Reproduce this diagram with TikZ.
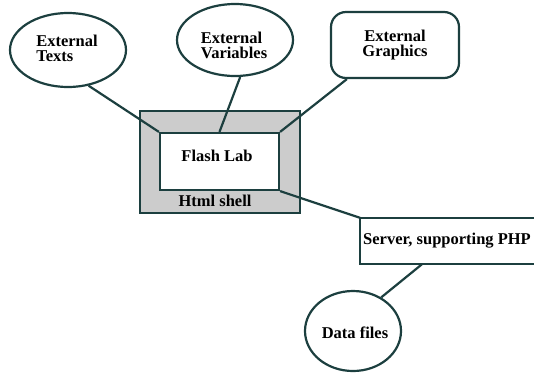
\documentclass[tikz,border=0pt]{standalone}
\usepackage{fontspec}
\setmainfont{Liberation Serif}
\usetikzlibrary{shapes.geometric,calc}
\definecolor{edge}{HTML}{1C3F3F}
\definecolor{shellgray}{HTML}{CCCCCC}
\tikzset{
  lbl/.style={font=\fontsize{16.5}{15}\selectfont\bfseries, text=black},
  ell/.style={ellipse, draw=edge, line width=2.2pt, fill=white, inner sep=0pt, lbl},
  box/.style={rectangle, draw=edge, line width=2.2pt, inner sep=0pt, lbl},
  conn/.style={draw=edge, line width=2.2pt}
}
\begin{document}
\begin{tikzpicture}[x=1pt,y=-1pt]
\useasboundingbox (0,0) rectangle (534,373);
% shell and flash lab
\node[box, fill=shellgray, minimum width=160pt, minimum height=102pt] (shell) at (220,162) {};
\node[box, fill=white, minimum width=119pt, minimum height=57pt] (flash) at (219.5,161.5) {};
\node[lbl] (flashtxt) at (217,156) {Flash Lab};
\node[lbl] (shelltxt) at (215,201) {Html shell};
% externals
\node[ell, minimum width=116pt, minimum height=74pt] (texts) at (68,50) {};
\node[lbl, align=left] (textstxt) at (67,48) {External\\Texts};
\node[ell, minimum width=116pt, minimum height=72pt] (vars) at (235,40) {};
\node[lbl, align=left] (varstxt) at (234,45) {External\\Variables};
\node[box, rounded corners=15pt, fill=white, minimum width=128pt, minimum height=66pt, align=center] (gfx) at (395,45) {External\\Graphics};
% server and data (box runs off the right edge)
\node[rectangle, fill=white, inner sep=0pt, minimum width=174pt, minimum height=46pt, anchor=west] (srv) at (360,241) {};
\draw[conn] (srv.north east) -- (srv.north west) -- (srv.south west) -- (srv.south east);
\node[lbl] (srvtxt) at (447,241) {Server, supporting PHP};
\node[ell, minimum width=96pt, minimum height=80pt] (data) at (353,331) {};
\node[lbl] (datatxt) at (355,333) {Data files};
% connectors
\draw[conn] (texts.-60) -- (flash.north west);
\draw[conn] (vars.-82) -- (flash.north);
\draw[conn] ($(gfx.south west)+(17,0)$) -- (flash.north east);
\draw[conn] (flash.south east) -- (srv.north west);
\draw[conn] (data.50) -- ($(srv.south west)+(62,0)$);
\end{tikzpicture}
\end{document}
